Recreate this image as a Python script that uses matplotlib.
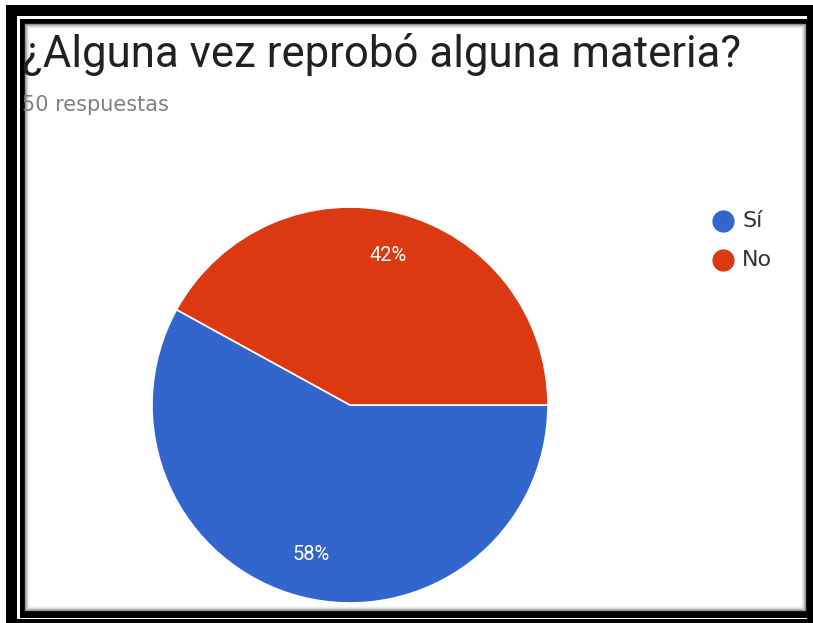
import matplotlib
matplotlib.use("Agg")
import matplotlib.pyplot as plt
from matplotlib.patches import Rectangle
from matplotlib.lines import Line2D

labels = ["Sí", "No"]
values = [58, 42]
colors = ["#3366cc", "#dc3912"]
title = "¿Alguna vez reprobó alguna materia?"
subtitle = "50 respuestas"

W, H = 813, 623
fig = plt.figure(figsize=(W / 100, H / 100), dpi=100)
fig.patch.set_facecolor("white")

def px(x0, y0, x1, y1, **kw):
    # rectangle given in pixel coords (top-left origin)
    r = Rectangle((x0 / W, 1 - y1 / H), (x1 - x0) / W, (y1 - y0) / H,
                  transform=fig.transFigure, zorder=-10, **kw)
    fig.patches.append(r)

# outer double frame
px(6, 5, 813, 623, facecolor="black", edgecolor="none")
px(17, 16, 807, 619, facecolor="white", edgecolor="none")
px(20, 19, 812, 618, facecolor="black", edgecolor="none")
px(25, 24, 805, 610, facecolor="white", edgecolor="none")
# soft inner shadow
for i, g in enumerate([0.55, 0.7, 0.82, 0.92]):
    px(25 + i, 24 + i, 805 - i, 610 - i, facecolor="none",
       edgecolor=(g, g, g), linewidth=1.0)

# pie axes: center (350,405), radius 198
cx, cy, r = 350, 405, 198
ax = fig.add_axes([(cx - r) / W, 1 - (cy + r) / H, 2 * r / W, 2 * r / H])
ax.set_zorder(5)
wedges, _, autotexts = ax.pie(
    values, colors=colors, startangle=0, counterclock=False,
    autopct="%d%%", pctdistance=0.78,
    wedgeprops=dict(edgecolor="white", linewidth=1.2),
    textprops=dict(color="white", fontsize=14.5, family="Roboto"))
ax.set_xlim(-1, 1)
ax.set_ylim(-1, 1)
ax.set_aspect("equal")
ax.axis("off")

fig.text(22 / W, 1 - 67 / H, title, fontsize=31.5, family="Roboto",
         color="#212121", ha="left", va="baseline")
fig.text(22 / W, 1 - 111 / H, subtitle, fontsize=15, family="DejaVu Sans",
         color="#808080", ha="left", va="baseline")

# legend
for i, (lab, col) in enumerate(zip(labels, colors)):
    y = 221 + i * 39
    fig.add_artist(Line2D([723 / W], [1 - y / H], marker="o", markersize=15,
                          color=col, transform=fig.transFigure, linestyle="none",
                          zorder=6))
    fig.text(742 / W, 1 - y / H, lab, fontsize=16, family="DejaVu Sans",
             color="#333333", ha="left", va="center")

fig.savefig("out.png", dpi=100)
